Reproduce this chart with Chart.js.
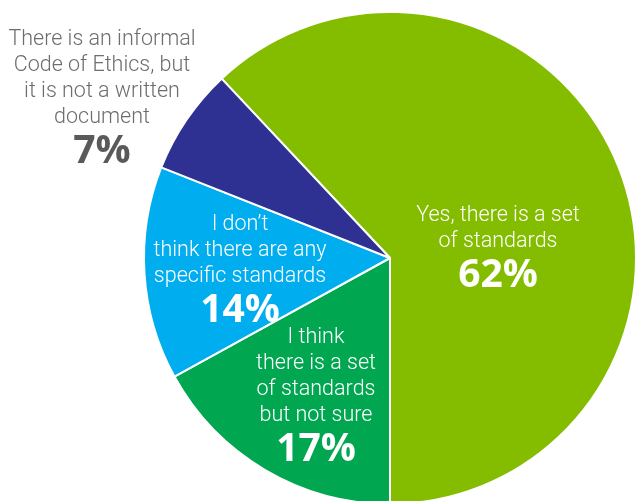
<!DOCTYPE html>
<html>
<head>
    <title>Code of Ethics Pie</title>
    <script src="https://cdn.jsdelivr.net/npm/chart.js"></script>
    <style>
        html, body { margin: 0; padding: 0; background: #fff; overflow: hidden; }
        #wrap { position: relative; width: 637px; height: 505px; }
    </style>
</head>
<body>
    <div id="wrap"><canvas id="pieChart"></canvas></div>
    <script>
        // answers, clockwise starting from the big green slice
        const categories = [
            'Yes, there is a set of standards',
            'I think there is a set of standards but not sure',
            "I don\u2019t think there are any specific standards",
            'There is an informal Code of Ethics, but it is not a written document'
        ];
        const values = [62, 17, 14, 7];
        const labelLines = [
            ['Yes, there is a set', 'of standards'],
            ['I think', 'there is a set', 'of standards', 'but not sure'],
            ['I don\u2019t', 'think there are any', 'specific standards'],
            ['There is an informal', 'Code of Ethics, but', 'it is not a written', 'document']
        ];
        const colors = ['#84bd00', '#00a650', '#00adef', '#2e3192'];

        // where each label block sits (center x, first line y) and text colours
        const labelSpots = [
            { x: 498, y: 216, color: '#ffffff', pctColor: '#ffffff' },
            { x: 316, y: 338, color: '#ffffff', pctColor: '#ffffff' },
            { x: 240, y: 225, color: '#ffffff', pctColor: '#ffffff' },
            { x: 102, y: 40, color: '#6d6d6d', pctColor: '#5a5a5a' }
        ];

        const sliceLabels = {
            id: 'sliceLabels',
            afterDatasetsDraw(chart) {
                const ctx = chart.ctx;
                ctx.save();
                ctx.textAlign = 'center';
                ctx.textBaseline = 'middle';
                labelLines.forEach((lines, i) => {
                    const spot = labelSpots[i];
                    ctx.fillStyle = spot.color;
                    ctx.font = '300 21.5px Roboto';
                    lines.forEach((line, j) => {
                        ctx.fillText(line, spot.x, spot.y + j * 26);
                    });
                    ctx.fillStyle = spot.pctColor;
                    ctx.font = 'bold 39px "Open Sans"';
                    ctx.fillText(values[i] + '%', spot.x, spot.y + lines.length * 26 + 8);
                });
                ctx.restore();
            }
        };

        new Chart(document.getElementById('pieChart'), {
            type: 'pie',
            data: {
                labels: categories,
                datasets: [{
                    data: values,
                    backgroundColor: colors,
                    borderColor: '#ffffff',
                    borderWidth: 2,
                    hoverOffset: 0
                }]
            },
            options: {
                responsive: true,
                maintainAspectRatio: false,
                animation: false,
                rotation: -43.2,
                layout: { padding: { left: 143, top: 11, right: 0, bottom: 0 } },
                plugins: {
                    legend: { display: false },
                    tooltip: { enabled: false }
                }
            },
            plugins: [sliceLabels]
        });
    </script>
</body>
</html>
